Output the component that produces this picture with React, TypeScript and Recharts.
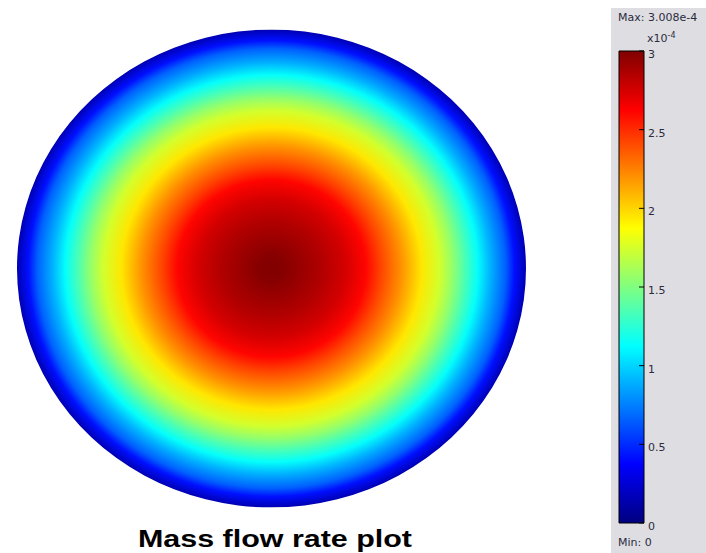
import { PieChart, Pie, BarChart, Bar, XAxis, YAxis } from 'recharts';

// radial profile, r as fraction of the pipe radius
const radiusFraction = [0, 0.05, 0.2, 0.29, 0.37, 0.43, 0.51, 0.59, 0.66, 0.71, 0.76, 0.81, 0.86, 0.92, 0.955, 1.0];
// mass flow rate, x1e-4
const flowRate = [3.0, 2.99, 2.86, 2.76, 2.62, 2.43, 2.2, 1.95, 1.75, 1.57, 1.35, 1.14, 0.9, 0.66, 0.42, 0.15];

const scaleTicks = [0, 0.5, 1, 1.5, 2, 2.5, 3];
const scaleMax = 3.008;
const scaleMin = 0;

const section = [{ name: 'section', value: 1 }];
const colorbar = [{ name: 'scale', value: 3 }];

const jet = (t: number) => {
  const c = (x: number) => Math.round(255 * Math.max(0, Math.min(1, x)));
  const r = c(Math.min(4 * t - 1.5, -4 * t + 4.5));
  const g = c(Math.min(4 * t - 0.5, -4 * t + 3.5));
  const b = c(Math.min(4 * t + 0.5, -4 * t + 2.5));
  return `rgb(${r},${g},${b})`;
};

const smallText = {
  position: 'absolute' as const,
  fontFamily: '"DejaVu Sans", sans-serif',
  fontSize: 11,
  color: '#2b2b40',
  whiteSpace: 'nowrap' as const,
};

const App = () => {
  return (
    <div style={{ position: 'absolute', left: 0, top: 0, width: 706, height: 553, background: '#fff', overflow: 'hidden' }}>
      {/* grey legend panel */}
      <div style={{ position: 'absolute', left: 611, top: 8, width: 95, height: 545, background: '#dedee2' }} />

      {/* cross section of the pipe */}
      <div
        style={{
          position: 'absolute',
          left: 17,
          top: 13.5,
          width: 509,
          height: 509,
          transform: 'scaleY(0.939)',
          transformOrigin: '50% 50%',
        }}
      >
        <PieChart width={509} height={509} margin={{ top: 0, right: 0, bottom: 0, left: 0 }}>
          <defs>
            <radialGradient id="flowField" cx="50%" cy="50%" r="50%">
              {radiusFraction.map((f, i) => (
                <stop key={i} offset={f} stopColor={jet((flowRate[i] - scaleMin) / (scaleMax - scaleMin))} />
              ))}
            </radialGradient>
          </defs>
          <Pie
            data={section}
            dataKey="value"
            cx="50%"
            cy="50%"
            innerRadius={0}
            outerRadius={254.5}
            startAngle={90}
            endAngle={-270}
            fill="url(#flowField)"
            stroke="none"
            isAnimationActive={false}
          />
        </PieChart>
      </div>

      {/* colour scale */}
      <div style={{ position: 'absolute', left: 600, top: 0 }}>
        <BarChart
          width={106}
          height={553}
          data={colorbar}
          barCategoryGap={0}
          margin={{ top: 51, right: 12, bottom: 30, left: 9 }}
        >
          <defs>
            <linearGradient id="jetScale" x1="0" y1="1" x2="0" y2="0">
              {[0, 1, 2, 3, 4, 5, 6, 7, 8].map((k) => (
                <stop key={k} offset={k / 8} stopColor={jet(k / 8)} />
              ))}
            </linearGradient>
          </defs>
          <XAxis dataKey="name" hide />
          <YAxis
            yAxisId="left"
            orientation="left"
            domain={[0, 3]}
            ticks={scaleTicks}
            width={10}
            axisLine={false}
            tick={false}
            tickSize={-5}
            tickLine={{ stroke: '#000', strokeWidth: 1 }}
          />
          <YAxis
            yAxisId="right"
            orientation="right"
            domain={[0, 3]}
            ticks={scaleTicks}
            width={50}
            axisLine={false}
            tickSize={-5}
            tickMargin={9}
            tickLine={{ stroke: '#000', strokeWidth: 1 }}
            tick={{ fill: '#2b2b40', fontSize: 11, fontFamily: '"DejaVu Sans", sans-serif', textAnchor: 'start', dy: 3 }}
          />
          <Bar
            yAxisId="right"
            dataKey="value"
            fill="url(#jetScale)"
            stroke="#000"
            strokeWidth={1}
            isAnimationActive={false}
          />
        </BarChart>
      </div>

      <div style={{ ...smallText, left: 618, top: 11 }}>Max: 3.008e-4</div>
      <div style={{ ...smallText, left: 647, top: 31 }}>
        x10<sup style={{ fontSize: 8, verticalAlign: 4 }}>-4</sup>
      </div>
      <div style={{ ...smallText, left: 618, top: 536 }}>Min: 0</div>

      {/* title */}
      <svg style={{ position: 'absolute', left: 0, top: 500 }} width={706} height={53}>
        <text
          x={138}
          y={47}
          textLength={274}
          lengthAdjust="spacingAndGlyphs"
          fontFamily='"Liberation Sans", Arial, sans-serif'
          fontWeight="bold"
          fontSize={23}
          fill="#000"
        >
          Mass flow rate plot
        </text>
      </svg>
    </div>
  );
};

export default App;
